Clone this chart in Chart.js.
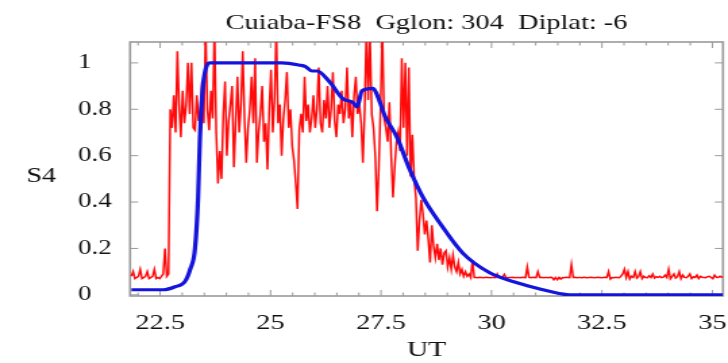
<!DOCTYPE html>
<html>
<head>
<meta charset="utf-8">
<script src="https://cdn.jsdelivr.net/npm/chart.js@4.4.1/dist/chart.umd.min.js"></script>
<style>
  html, body { margin: 0; padding: 0; background: #fff; overflow: hidden; }
  /* the reference is a horizontally stretched image, so draw narrow and stretch */
  #wrap { width: 539px; height: 363px; transform: scaleX(1.3506); transform-origin: 0 0; }
</style>
</head>
<body>
<div id="wrap"><canvas id="chart-s4" width="539" height="363"></canvas></div>
<script>
const titleText = 'Cuiaba-FS8  Gglon: 304  Diplat: -6';
const xTitle = 'UT';
const yTitle = 'S4';

// red: measured S4, sampled every 0.04 h from 21.85 UT
const redStartUT = 21.85;
const redStepUT = 0.04;
const redS4 = [
  0.08, 0.10, 0.07, 0.075, 0.08, 0.11, 0.07, 0.075, 0.08, 0.10,
  0.07, 0.075, 0.08, 0.11, 0.07, 0.075, 0.07, 0.08, 0.09, 0.20,
  0.08, 0.09, 0.80, 0.72, 0.86, 0.70, 1.05, 0.82, 0.68, 0.88,
  0.74, 0.82, 1.00, 0.78, 1.00, 0.72, 0.71, 0.86, 0.75, 0.80,
  0.92, 0.74, 1.15, 0.80, 0.71, 0.88, 0.76, 1.15, 0.70, 0.48,
  0.62, 0.50, 0.78, 0.92, 0.60, 0.75, 0.82, 0.90, 0.55, 0.74,
  0.94, 0.70, 0.82, 1.05, 0.76, 0.57, 0.72, 0.80, 0.94, 0.74,
  1.02, 0.57, 0.70, 0.78, 0.90, 0.66, 0.74, 0.54, 0.80, 0.97,
  0.70, 0.85, 1.15, 0.74, 0.82, 0.60, 0.76, 0.84, 0.96, 0.72,
  0.80, 0.64, 0.58, 0.48, 0.37, 0.71, 0.78, 0.70, 0.94, 0.75,
  0.82, 0.70, 0.76, 0.86, 0.72, 0.80, 0.98, 0.74, 0.70, 0.84,
  0.76, 0.90, 0.72, 0.80, 0.96, 0.75, 0.68, 0.82, 0.78, 0.88,
  0.74, 0.80, 0.98, 0.76, 0.84, 0.68, 0.86, 0.94, 0.78, 0.82,
  0.74, 0.57, 0.80, 1.15, 0.84, 1.12, 0.78, 0.72, 0.60, 0.36,
  0.55, 0.82, 1.15, 0.76, 0.72, 0.66, 0.83, 0.60, 0.42, 0.55,
  0.66, 0.70, 0.62, 1.02, 0.72, 1.00, 0.60, 0.98, 0.51, 0.69,
  0.50, 0.42, 0.19, 0.32, 0.41, 0.35, 0.26, 0.32, 0.24, 0.14,
  0.30, 0.21, 0.16, 0.22, 0.15, 0.20, 0.13, 0.18, 0.19, 0.12,
  0.16, 0.11, 0.17, 0.12, 0.10, 0.14, 0.09, 0.11, 0.08, 0.10,
  0.08, 0.09, 0.075, 0.15, 0.075, 0.075, 0.074, 0.076, 0.075, 0.074,
  0.075, 0.076, 0.075, 0.074, 0.075, 0.075, 0.074, 0.09, 0.075, 0.074,
  0.076, 0.088, 0.075, 0.074, 0.075, 0.075, 0.076, 0.074, 0.075, 0.075,
  0.074, 0.076, 0.075, 0.074, 0.12, 0.075, 0.074, 0.076, 0.075, 0.074,
  0.10, 0.075, 0.076, 0.074, 0.075, 0.075, 0.074, 0.076, 0.075, 0.065,
  0.075, 0.065, 0.075, 0.068, 0.075, 0.074, 0.076, 0.075, 0.074, 0.13,
  0.075, 0.076, 0.074, 0.075, 0.075, 0.074, 0.076, 0.075, 0.074, 0.075,
  0.076, 0.075, 0.074, 0.075, 0.076, 0.075, 0.074, 0.075, 0.076, 0.075,
  0.10, 0.068, 0.075, 0.074, 0.076, 0.075, 0.074, 0.08, 0.09, 0.11,
  0.075, 0.10, 0.068, 0.08, 0.075, 0.10, 0.072, 0.078, 0.10, 0.07,
  0.08, 0.075, 0.074, 0.082, 0.075, 0.09, 0.072, 0.078, 0.075, 0.08,
  0.074, 0.076, 0.085, 0.075, 0.11, 0.07, 0.08, 0.09, 0.072, 0.078,
  0.10, 0.07, 0.085, 0.075, 0.074, 0.08, 0.09, 0.07, 0.078, 0.075,
  0.085, 0.07, 0.08, 0.076, 0.075, 0.074, 0.078, 0.08, 0.075, 0.07,
  0.085, 0.076, 0.075, 0.08, 0.076, 0.078, 0.077
];

// blue: model S4
const blueUT = [21.85, 22.57, 22.84, 23.06, 23.18, 23.29, 23.36, 23.40, 23.47, 23.56,
  23.63, 25.26, 25.67, 25.78, 25.94, 26.05, 26.34, 26.64, 26.86, 26.96,
  27.07, 27.32, 27.43, 27.59, 27.86, 28.15, 28.45, 28.83, 29.35, 29.96,
  30.58, 31.16, 31.62, 31.77, 35.24];
const blueS4 = [0.022, 0.022, 0.035, 0.057, 0.11, 0.20, 0.42, 0.67, 0.90, 0.99,
  1.0, 1.0, 0.99, 0.985, 0.965, 0.965, 0.917, 0.845, 0.83, 0.81,
  0.88, 0.89, 0.853, 0.77, 0.68, 0.54, 0.42, 0.31, 0.18, 0.095,
  0.052, 0.022, 0.003, 0, 0];

const xMin = 21.82, xMax = 35.24;
const yMin = -0.005, yMax = 1.09;

const serif = "'Liberation Serif', 'Times New Roman', serif";
Chart.defaults.font.family = serif;
Chart.defaults.color = '#111';

const near = (v, step) => Math.abs(v / step - Math.round(v / step)) < 1e-6;

// mathematica-like frame: gray box with inward ticks on all four sides
const frameTicks = {
  id: 'frameTicks',
  beforeDatasetsDraw(chart) {
    const { ctx, chartArea: a, scales: { x, y } } = chart;
    ctx.save();
    ctx.strokeStyle = '#9a9a9a';
    ctx.lineWidth = 1;
    ctx.beginPath();
    x.ticks.forEach(t => {
      const px = x.getPixelForValue(t.value);
      const len = near(t.value, 2.5) ? 6 : 3.5;
      ctx.moveTo(px, a.bottom); ctx.lineTo(px, a.bottom - len);
      ctx.moveTo(px, a.top); ctx.lineTo(px, a.top + len);
    });
    y.ticks.forEach(t => {
      const py = y.getPixelForValue(t.value);
      const len = near(t.value, 0.2) ? 6 : 3.5;
      ctx.moveTo(a.left, py); ctx.lineTo(a.left + len, py);
      ctx.moveTo(a.right, py); ctx.lineTo(a.right - len, py);
    });
    ctx.stroke();
    ctx.lineWidth = 1.6;
    ctx.strokeRect(a.left, a.top, a.right - a.left, a.bottom - a.top);
    ctx.restore();
  },
  afterDraw(chart) {
    const { ctx } = chart;
    ctx.save();
    ctx.fillStyle = '#111';
    ctx.font = '21px ' + serif;
    ctx.textAlign = 'center';
    ctx.textBaseline = 'middle';
    ctx.fillText(yTitle, 30.5, 176);
    ctx.restore();
  }
};

new Chart(document.getElementById('chart-s4'), {
  type: 'line',
  data: {
    datasets: [
      {
        label: 'model',
        data: blueUT.map((u, i) => ({ x: u, y: blueS4[i] })),
        borderColor: '#1414dc',
        borderWidth: 3.2,
        pointRadius: 0,
        cubicInterpolationMode: 'monotone',
        fill: false,
      },
      {
        label: 'observed',
        data: redS4.map((v, i) => ({ x: redStartUT + i * redStepUT, y: v })),
        borderColor: '#ff0a0a',
        borderWidth: 1.5,
        pointRadius: 0,
        tension: 0,
        fill: false,
      }
    ]
  },
  options: {
    responsive: false,
    animation: false,
    layout: { padding: { left: 57.8, right: 3.7, top: 0, bottom: 0 } },
    scales: {
      x: {
        type: 'linear',
        min: xMin,
        max: xMax,
        grid: { display: false },
        border: { display: false },
        ticks: {
          stepSize: 0.5,
          includeBounds: false,
          autoSkip: false,
          maxRotation: 0,
          padding: 7,
          font: { size: 21 },
          color: '#111',
          callback: v => near(v, 2.5) ? String(+v.toFixed(2)) : ''
        },
        title: { display: true, text: xTitle, font: { size: 22 }, color: '#111', padding: { top: 0, bottom: 0 } },
        afterFit(scale) { scale.height = 67; scale.paddingLeft = 0; scale.paddingRight = 0; }
      },
      y: {
        type: 'linear',
        min: yMin,
        max: yMax,
        grid: { display: false },
        border: { display: false },
        ticks: {
          stepSize: 0.1,
          includeBounds: false,
          crossAlign: 'far',
          font: { size: 20 },
          color: '#111',
          callback: v => near(v, 0.2) ? String(+v.toFixed(1)) : ''
        },
        afterFit(scale) { scale.width = 38.5; scale.paddingTop = 0; scale.paddingBottom = 0; }
      }
    },
    plugins: {
      legend: { display: false },
      tooltip: { enabled: false },
      title: {
        display: true,
        fullSize: false,
        text: titleText,
        font: { size: 21, weight: 'normal' },
        color: '#111',
        padding: { top: 11, bottom: 5.8 }
      }
    }
  },
  plugins: [frameTicks]
});
</script>
</body>
</html>
